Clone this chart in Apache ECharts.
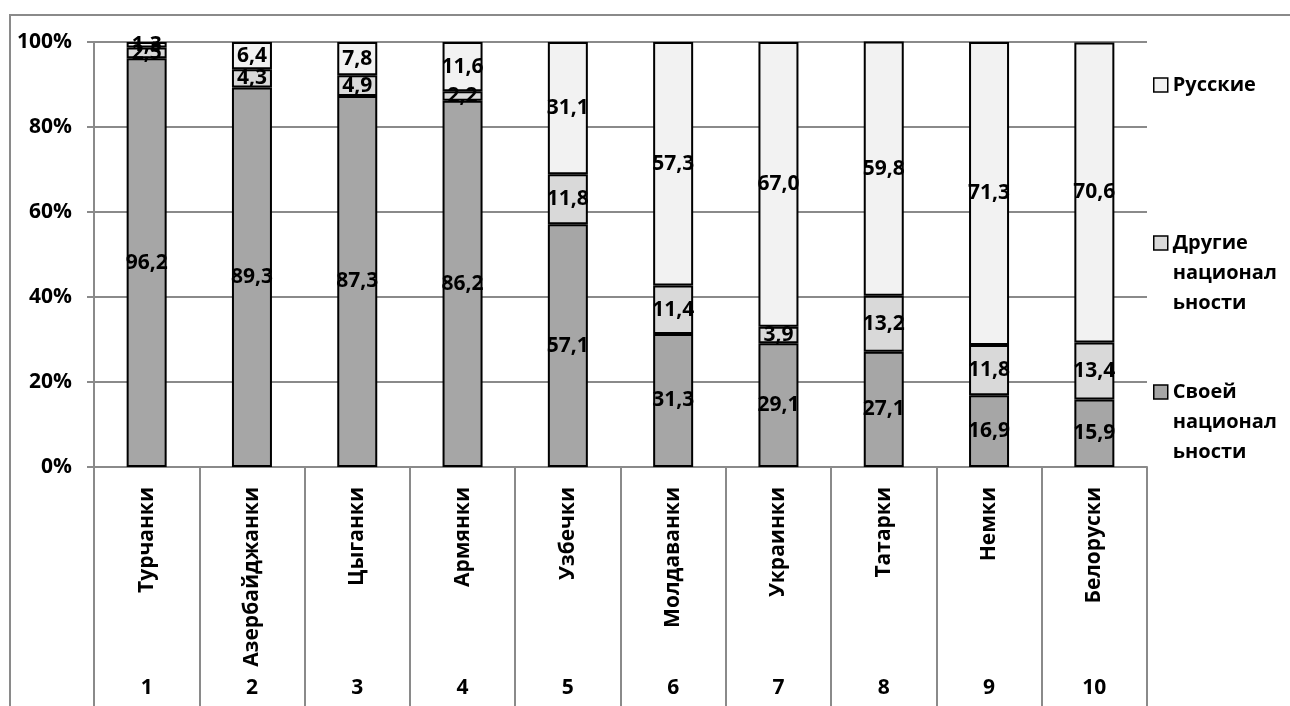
<!DOCTYPE html>
<html>
<head>
<meta charset="utf-8">
<script src="https://cdn.jsdelivr.net/npm/echarts@6/dist/echarts.min.js"></script>
<style>
html,body{margin:0;padding:0;background:#fff;}
#chart{width:1290px;height:706px;}
</style>
</head>
<body>
<div id="chart"></div>
<script>
// ---- data ----
var categories = ['Турчанки','Азербайджанки','Цыганки','Армянки','Узбечки','Молдаванки','Украинки','Татарки','Немки','Белоруски'];
var rowNumbers = ['1','2','3','4','5','6','7','8','9','10'];
var ownNationality = [96.2, 89.3, 87.3, 86.2, 57.1, 31.3, 29.1, 27.1, 16.9, 15.9];
var otherNationality = [2.5, 4.3, 4.9, 2.2, 11.8, 11.4, 3.9, 13.2, 11.8, 13.4];
var russians = [1.3, 6.4, 7.8, 11.6, 31.1, 57.3, 67.0, 59.8, 71.3, 70.6];
var yTicks = [0, 20, 40, 60, 80, 100];

var nameOwn = 'Своей национальности';
var nameOther = 'Другие национальности';
var nameRus = 'Русские';

// ---- styles ----
var FONT = 'Open Sans';
var GRAY = '#8a8a8a';
var legendDisplay = {};
legendDisplay[nameRus] = 'Русские';
legendDisplay[nameOther] = '\n\nДругие\nнационал\nьности';
legendDisplay[nameOwn] = '\n\nСвоей\nнационал\nьности';

function fmt(p){ return p.value.toFixed(1).replace('.', ','); }

var labelStyle = {show:true, position:'inside', formatter:fmt, color:'#000', fontFamily:FONT, fontWeight:'bold', fontSize:21};

function mkSeries(name, data, color){
  return {
    name:name, type:'bar', stack:'total', data:data, barWidth:40,
    itemStyle:{color:color, borderColor:'#000', borderWidth:2},
    label:labelStyle,
    emphasis:{disabled:true}
  };
}

function mkLegend(name, top){
  return {
    data:[name], left:1153, top:top, orient:'vertical', padding:0,
    icon:'rect', itemWidth:14, itemHeight:14,
    itemStyle:{borderColor:'#000', borderWidth:1.5},
    formatter:function(n){ return legendDisplay[n]; },
    textStyle:{fontFamily:FONT, fontWeight:'bold', fontSize:20, color:'#000', lineHeight:30},
    selectedMode:false
  };
}

var chart = echarts.init(document.getElementById('chart'), null, {renderer:'canvas'});
chart.setOption({
  animation:false,
  backgroundColor:'#fff',
  graphic:[{type:'rect', shape:{x:10, y:15, width:1400, height:800}, style:{fill:'none', stroke:GRAY, lineWidth:2}, silent:true}],
  grid:{left:94, right:143, top:42, bottom:239, containLabel:false},
  legend:[mkLegend(nameRus, 70), mkLegend(nameOther, 168), mkLegend(nameOwn, 317)],
  xAxis:[{
    type:'category', data:categories, gridIndex:0,
    axisLine:{show:true, lineStyle:{color:GRAY, width:2}},
    axisTick:{show:true, length:239, interval:0, alignWithLabel:false, lineStyle:{color:GRAY, width:2}},
    axisLabel:{interval:0, rotate:90, margin:20, fontFamily:FONT, fontWeight:'bold', fontSize:21, color:'#000'},
    splitLine:{show:false}
  },{
    type:'category', data:rowNumbers, gridIndex:0, position:'bottom', offset:205,
    axisLine:{show:false}, axisTick:{show:false},
    axisLabel:{interval:0, margin:6, fontFamily:FONT, fontWeight:'bold', fontSize:21, color:'#000'}
  }],
  yAxis:{
    type:'value', min:yTicks[0], max:yTicks[yTicks.length-1], interval:yTicks[1]-yTicks[0],
    axisLine:{show:true, lineStyle:{color:GRAY, width:2}},
    axisTick:{show:true, length:7, lineStyle:{color:GRAY, width:2}},
    axisLabel:{formatter:'{value}%', margin:22, fontFamily:FONT, fontWeight:'bold', fontSize:21, color:'#000'},
    splitLine:{show:true, lineStyle:{color:GRAY, width:2}}
  },
  series:[
    mkSeries(nameOwn, ownNationality, '#a6a6a6'),
    mkSeries(nameOther, otherNationality, '#d9d9d9'),
    mkSeries(nameRus, russians, '#f2f2f2')
  ]
});
</script>
</body>
</html>
